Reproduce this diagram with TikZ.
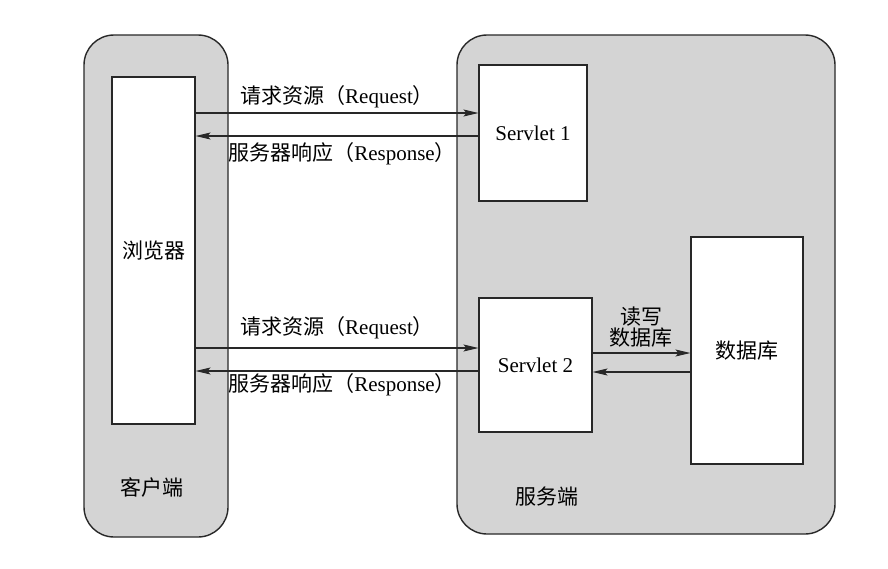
\documentclass[tikz,border=0pt]{standalone}
\usepackage{fontspec}
\setmainfont{Liberation Serif}
\newfontfamily\cjk{Noto Sans CJK SC}
\usetikzlibrary{arrows.meta}
\definecolor{panel}{RGB}{212,212,212}
\definecolor{edge}{RGB}{40,40,40}
\begin{document}
\begin{tikzpicture}[x=1pt,y=-1pt,
  every node/.style={font=\fontsize{21}{24}\selectfont},
  region/.style={draw=edge,line width=1.4pt,fill=panel,rounded corners=30pt},
  whitebox/.style={draw=edge,line width=1.1pt,fill=white,inner sep=0pt},
  conn/.style={draw=edge,line width=1.1pt,-{Stealth[length=15pt,width=7pt,inset=3pt]}},
  lbl/.style={inner sep=1pt}]
\useasboundingbox (0,0) rectangle (888,568);
\fill[white] (0,0) rectangle (888,568);
% regions
\path[region] (84,35) rectangle (228,537);
\path[region] (457,35) rectangle (835,534);
% boxes
\node[whitebox,minimum width=83pt,minimum height=347pt] (browser) at (153.5,250.5) {\cjk 浏览器};
\node[whitebox,minimum width=108pt,minimum height=136pt] (s1) at (533,133) {Servlet 1};
\node[whitebox,minimum width=113pt,minimum height=134pt] (s2) at (535.5,365) {Servlet 2};
\node[whitebox,minimum width=112pt,minimum height=227pt] (db) at (747,350.5) {\cjk 数据库};
% region labels
\node (client) at (152,487) {\cjk 客户端};
\node (server) at (547,497) {\cjk 服务端};
% endpoints
\coordinate (b1r) at (browser.east |- 0,113);
\coordinate (b1s) at (browser.east |- 0,136);
\coordinate (b2r) at (browser.east |- 0,348);
\coordinate (b2s) at (browser.east |- 0,371);
% arrows
\draw[conn] (b1r) -- (s1.west |- b1r);
\draw[conn] (s1.west |- b1s) -- (b1s);
\draw[conn] (b2r) -- (s2.west |- b2r);
\draw[conn] (s2.west |- b2s) -- (b2s);
\node[lbl] (req1) at (337,97) {{\cjk 请求资源（}Request{\cjk ）}};
\node[lbl] (res1) at (342,154) {{\cjk 服务器响应（}Response{\cjk ）}};
\node[lbl] (req2) at (337,328) {{\cjk 请求资源（}Request{\cjk ）}};
\node[lbl] (res2) at (342,385) {{\cjk 服务器响应（}Response{\cjk ）}};
\draw[conn] (s2.east |- 0,353) -- (db.west |- 0,353);
\draw[conn] (db.west |- 0,372) -- (s2.east |- 0,372);
\node[lbl,align=center,font=\fontsize{21}{21}\selectfont\cjk] (rw) at (641,327) {读写\\数据库};
\end{tikzpicture}
\end{document}
